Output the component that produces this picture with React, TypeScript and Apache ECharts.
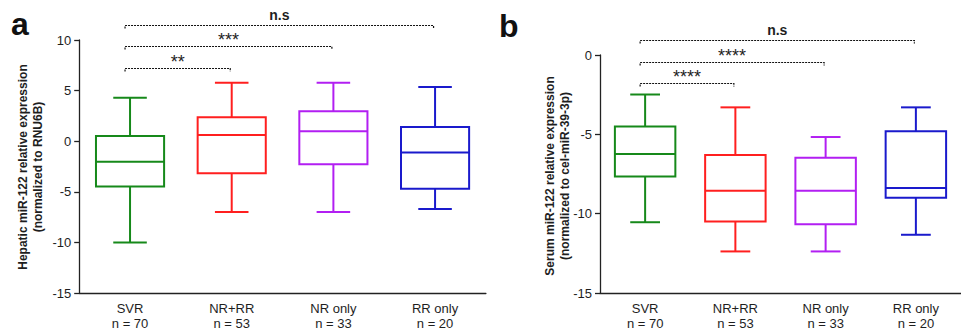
import React, { useEffect, useRef } from "react";
import * as echarts from "echarts";

const categories = ["SVR", "NR+RR", "NR only", "RR only"];
const groupSizes = [70, 53, 33, 20];

// [min, Q1, median, Q3, max]
const hepaticBoxes = [
  [-10.0, -4.48, -2.04, 0.52, 4.3],
  [-7.0, -3.16, 0.62, 2.37, 5.78],
  [-7.0, -2.27, 0.99, 2.96, 5.78],
  [-6.71, -4.71, -1.12, 1.41, 5.36],
];
const serumBoxes = [
  [-10.54, -7.65, -6.24, -4.5, -2.49],
  [-12.38, -10.5, -8.55, -6.3, -3.3],
  [-12.38, -10.66, -8.55, -6.47, -5.17],
  [-11.33, -9.0, -8.38, -4.81, -3.3],
];

// significance brackets: [fromIndex, toIndex, level]
const hepaticBrackets = [
  [0, 3, 11.5],
  [0, 2, 9.4],
  [0, 1, 7.24],
];
const hepaticBracketLabels = ["n.s", "***", "**"];
const serumBrackets = [
  [0, 3, 0.93],
  [0, 2, -0.42],
  [0, 1, -1.76],
];
const serumBracketLabels = ["n.s", "****", "****"];

const hepaticTicks = { min: -15, max: 10, interval: 5 };
const serumTicks = { min: -15, max: 0, interval: 5 };

const boxColors = ["#16891a", "#ff1f1f", "#b21ff2", "#1a1acc"];
const FONT = '"Liberation Sans", Arial, sans-serif';
const TEXT = "#1e1e1e";

function boxRender(params: any, api: any) {
  const idx = api.value(0);
  const color = boxColors[params.dataIndex % boxColors.length];
  const band = api.size([1, 0])[0];
  const hb = band * 0.335;
  const hc = band * 0.165;
  const pMin = api.coord([idx, api.value(1)]);
  const pQ1 = api.coord([idx, api.value(2)]);
  const pMed = api.coord([idx, api.value(3)]);
  const pQ3 = api.coord([idx, api.value(4)]);
  const pMax = api.coord([idx, api.value(5)]);
  const cx = pMed[0];
  const st = { stroke: color, lineWidth: 2, fill: "none" };
  const ln = (x1: number, y1: number, x2: number, y2: number) => ({
    type: "line",
    shape: { x1, y1, x2, y2 },
    style: st,
  });
  return {
    type: "group",
    children: [
      {
        type: "rect",
        shape: { x: cx - hb, y: pQ3[1], width: hb * 2, height: pQ1[1] - pQ3[1] },
        style: { stroke: color, lineWidth: 2, fill: "rgba(0,0,0,0)" },
      },
      ln(cx - hb, pMed[1], cx + hb, pMed[1]),
      ln(cx, pQ3[1], cx, pMax[1]),
      ln(cx - hc, pMax[1], cx + hc, pMax[1]),
      ln(cx, pQ1[1], cx, pMin[1]),
      ln(cx - hc, pMin[1], cx + hc, pMin[1]),
    ],
  };
}

function bracketRender(labels: string[]) {
  return (params: any, api: any) => {
    const a = api.coord([api.value(0), api.value(2)]);
    const b = api.coord([api.value(1), api.value(2)]);
    const x1 = a[0] - 5;
    const x2 = b[0] - 1.5;
    const y = Math.round(a[1]) + 0.5;
    const label = labels[params.dataIndex];
    const star = label.indexOf("*") >= 0;
    return {
      type: "group",
      children: [
        {
          type: "polyline",
          shape: { points: [[x1, y + 3], [x1, y], [x2, y], [x2, y + 3]] },
          style: { stroke: "#111", lineWidth: 1.2, lineDash: [2, 1], fill: "none" },
        },
        {
          type: "text",
          x: (x1 + x2) / 2,
          y: star ? y - 6.5 : y - 11,
          style: {
            text: label,
            align: "center",
            verticalAlign: "middle",
            font: star ? `normal 18px ${FONT}` : `bold 14px ${FONT}`,
            fill: TEXT,
          },
        },
      ],
    };
  };
}

function xAxisFor(gridIndex: number) {
  return {
    type: "category",
    gridIndex,
    data: categories,
    boundaryGap: true,
    axisLine: { onZero: false, lineStyle: { color: "#222", width: 1.3 } },
    axisTick: { alignWithLabel: true, length: 5, lineStyle: { color: "#222", width: 1.3 } },
    axisLabel: {
      margin: 8,
      color: TEXT,
      fontSize: 13,
      fontFamily: FONT,
      lineHeight: 15,
      formatter: (v: string) => `${v}\nn = ${groupSizes[categories.indexOf(v)]}`,
    },
    splitLine: { show: false },
  };
}

function yAxisFor(gridIndex: number, t: { min: number; max: number; interval: number }) {
  return {
    type: "value",
    gridIndex,
    min: t.min,
    max: t.max,
    interval: t.interval,
    axisLine: { show: true, onZero: false, lineStyle: { color: "#222", width: 1.3 } },
    axisTick: { show: true, length: 5, lineStyle: { color: "#222", width: 1.3 } },
    axisLabel: { margin: 8, color: TEXT, fontSize: 13, fontFamily: FONT },
    splitLine: { show: false },
  };
}

export default function App() {
  const ref = useRef<HTMLDivElement>(null);
  useEffect(() => {
    if (!ref.current) return;
    const chart = echarts.init(ref.current, undefined, { renderer: "svg" });
    const titleFont = `bold 12px ${FONT}`;
    chart.setOption({
      animation: false,
      backgroundColor: "#ffffff",
      grid: [
        { left: 79.2, top: 40, width: 406.7, height: 253.3 },
        { left: 600, top: 55, width: 369.6, height: 241 },
      ],
      xAxis: [xAxisFor(0), xAxisFor(1)],
      yAxis: [yAxisFor(0, hepaticTicks), yAxisFor(1, serumTicks)],
      series: [
        {
          type: "custom",
          xAxisIndex: 0,
          yAxisIndex: 0,
          renderItem: boxRender,
          encode: { x: 0, y: [1, 2, 3, 4, 5] },
          data: hepaticBoxes.map((b, i) => [i, ...b]),
        },
        {
          type: "custom",
          xAxisIndex: 1,
          yAxisIndex: 1,
          renderItem: boxRender,
          encode: { x: 0, y: [1, 2, 3, 4, 5] },
          data: serumBoxes.map((b, i) => [i, ...b]),
        },
        {
          type: "custom",
          xAxisIndex: 0,
          yAxisIndex: 0,
          clip: false,
          renderItem: bracketRender(hepaticBracketLabels),
          encode: { x: [0, 1], y: 2 },
          data: hepaticBrackets,
        },
        {
          type: "custom",
          xAxisIndex: 1,
          yAxisIndex: 1,
          clip: false,
          renderItem: bracketRender(serumBracketLabels),
          encode: { x: [0, 1], y: 2 },
          data: serumBrackets,
        },
      ],
      graphic: [
        {
          type: "text",
          x: 11,
          y: 24,
          style: { text: "a", font: `bold 32px ${FONT}`, fill: "#111", align: "left", verticalAlign: "middle" },
        },
        {
          type: "text",
          x: 499,
          y: 26,
          style: { text: "b", font: `bold 32px ${FONT}`, fill: "#111", align: "left", verticalAlign: "middle" },
        },
        {
          type: "text",
          x: 30.5,
          y: 167,
          rotation: Math.PI / 2,
          style: {
            text: "Hepatic miR-122 relative expression\n(normalized to RNU6B)",
            font: titleFont,
            lineHeight: 15,
            fill: TEXT,
            align: "center",
            verticalAlign: "middle",
          },
        },
        {
          type: "text",
          x: 557.5,
          y: 176,
          rotation: Math.PI / 2,
          style: {
            text: "Serum miR-122 relative expression\n(normalized to cel-miR-39-3p)",
            font: titleFont,
            lineHeight: 15,
            fill: TEXT,
            align: "center",
            verticalAlign: "middle",
          },
        },
      ],
    });
    return () => chart.dispose();
  }, []);
  return (
    <div
      ref={ref}
      style={{ position: "absolute", left: 0, top: 0, width: 961, height: 331, background: "#fff" }}
    />
  );
}
